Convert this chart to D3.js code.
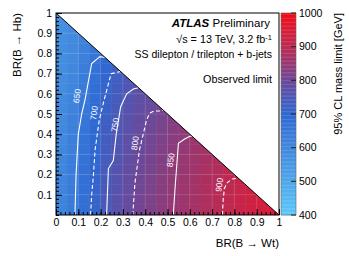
<!DOCTYPE html>
<html>
<head>
<meta charset="utf-8">
<script src="https://cdn.jsdelivr.net/npm/d3@7"></script>
<style>
  body { margin: 0; background: #fff; }
  svg { display: block; font-family: "Liberation Sans", Arial, Helvetica, sans-serif; }
</style>
</head>
<body>
<div id="chart"></div>
<script>
// bin width of the limit map, same on both axes
const binWidth = 0.05;

// 95% CL mass limit [GeV]; one row per BR(B->Hb) bin (bottom first),
// columns are BR(B->Wt) bins from the left, only inside the physical triangle
const massLimitRows = [
    [614, 643, 678, 713, 748, 769, 791, 808, 821, 835, 849, 860, 871, 883, 894, 906, 918, 929, 941, 953],
    [613, 642, 677, 712, 747, 768, 790, 807, 820, 834, 848, 859, 870, 882, 893, 905, 917, 928, 940],
    [612, 641, 676, 711, 746, 767, 789, 806, 819, 833, 847, 858, 869, 881, 892, 904, 916, 927],
    [610, 639, 674, 709, 744, 765, 787, 804, 817, 831, 845, 856, 867, 879, 890, 902, 914],
    [607, 636, 671, 706, 741, 762, 784, 801, 814, 828, 842, 853, 864, 876, 887, 899],
    [605, 634, 669, 704, 739, 760, 782, 799, 812, 826, 840, 851, 862, 874, 885],
    [602, 631, 666, 701, 736, 757, 779, 796, 809, 823, 837, 848, 859, 871],
    [599, 628, 663, 698, 733, 754, 776, 793, 806, 820, 834, 845, 856],
    [596, 625, 660, 695, 730, 751, 773, 790, 803, 817, 831, 842],
    [594, 621, 656, 691, 726, 747, 769, 786, 799, 813, 827],
    [592, 617, 652, 687, 722, 743, 765, 782, 795, 809],
    [590, 613, 648, 683, 718, 739, 761, 778, 791],
    [588, 610, 643, 678, 713, 734, 756, 773],
    [586, 607, 638, 673, 708, 729, 751],
    [584, 604, 633, 668, 703, 724],
    [582, 601, 627, 662, 697],
    [580, 598, 622, 657],
    [578, 595, 616],
    [576, 592],
    [574]
];

// observed-limit contours, [BR(B->Wt), BR(B->Hb)]
const contour650 = [[0.085, 0], [0.09, 0.2], [0.1, 0.4], [0.115, 0.5], [0.13, 0.57], [0.16, 0.75], [0.197, 0.784], [0.22, 0.78]];
const contour700 = [[0.155, 0], [0.16, 0.1], [0.168, 0.2], [0.175, 0.32], [0.185, 0.4], [0.194, 0.47], [0.212, 0.553], [0.247, 0.7], [0.29, 0.71]];
const contour750 = [[0.227, 0], [0.235, 0.23], [0.257, 0.27], [0.27, 0.4], [0.29, 0.536], [0.317, 0.6], [0.347, 0.624], [0.37, 0.63]];
const contour800 = [[0.344, 0], [0.354, 0.158], [0.374, 0.32], [0.406, 0.47], [0.42, 0.504], [0.44, 0.515], [0.474, 0.515], [0.48, 0.52]];
const contour850 = [[0.526, 0], [0.535, 0.15], [0.549, 0.355], [0.575, 0.375], [0.6, 0.39], [0.61, 0.39]];
const contour900 = [[0.746, 0], [0.75, 0.08], [0.755, 0.13], [0.765, 0.157], [0.788, 0.178], [0.818, 0.182]];

const contourLevels = [650, 700, 750, 800, 850, 900];
const contourLabelPos = [[0.094, 0.589], [0.17, 0.505], [0.265, 0.446], [0.354, 0.356], [0.514, 0.272], [0.732, 0.149]];

// axis ticks
const xTickValues = [0, 0.1, 0.2, 0.3, 0.4, 0.5, 0.6, 0.7, 0.8, 0.9, 1];
const xTickLabels = ["0", "0.1", "0.2", "0.3", "0.4", "0.5", "0.6", "0.7", "0.8", "0.9", "1"];
const yTickValues = [0.1, 0.2, 0.3, 0.4, 0.5, 0.6, 0.7, 0.8, 0.9, 1];
const yTickLabels = ["0.1", "0.2", "0.3", "0.4", "0.5", "0.6", "0.7", "0.8", "0.9", "1"];
const zTickValues = [400, 500, 600, 700, 800, 900, 1000];
const zTickLabels = ["400", "500", "600", "700", "800", "900", "1000"];

// colour palette of the z axis
const paletteStops = [400, 500, 600, 700, 750, 800, 850, 900, 950, 1000];
const paletteColors = ["#5cc9fa", "#4ea6ea", "#4288de", "#2e68d2", "#4c58b6", "#6c4898", "#963872", "#bc2a52", "#d81c38", "#f20a14"];

function drawLimitMap() {
    const plotW = 223, plotH = 202;

    const svg = d3.select("#chart")
        .append("svg")
        .attr("width", 349)
        .attr("height", 256);

    const g = svg.append("g").attr("transform", "translate(56,13)");

    const x = d3.scaleLinear().domain([0, 1]).range([0, plotW]);
    const y = d3.scaleLinear().domain([0, 1]).range([plotH, 0]);
    const color = d3.scaleLinear().domain(paletteStops).range(paletteColors).clamp(true);

    // only BR(Wt) + BR(Hb) <= 1 is physical
    svg.append("defs").append("clipPath").attr("id", "tri")
        .append("polygon")
        .attr("points", [[x(0), y(0)], [x(1), y(0)], [x(0), y(1)]].map(p => p.join(",")).join(" "));

    const cells = [];
    massLimitRows.forEach((row, j) => {
        row.forEach((v, i) => cells.push({ wt: i * binWidth, hb: j * binWidth, v: v }));
    });

    const map = g.append("g").attr("clip-path", "url(#tri)");

    map.selectAll("rect")
        .data(cells)
        .enter()
        .append("rect")
        .attr("x", d => x(d.wt))
        .attr("y", d => y(d.hb + binWidth))
        .attr("width", x(binWidth) - x(0))
        .attr("height", y(0) - y(binWidth))
        .attr("fill", d => color(d.v))
        .attr("stroke", d => color(d.v))
        .attr("stroke-width", 0.5);

    // faint grid
    const gridVals = xTickValues.slice(1, -1);
    map.selectAll(".gx").data(gridVals).enter().append("line")
        .attr("x1", d => x(d)).attr("x2", d => x(d))
        .attr("y1", y(0)).attr("y2", y(1))
        .attr("stroke", "#fff").attr("stroke-opacity", 0.13);
    map.selectAll(".gy").data(gridVals).enter().append("line")
        .attr("x1", x(0)).attr("x2", x(1))
        .attr("y1", d => y(d)).attr("y2", d => y(d))
        .attr("stroke", "#fff").attr("stroke-opacity", 0.13);

    // contour lines, every second level dashed
    const contours = [contour650, contour700, contour750, contour800, contour850, contour900]
        .map((pts, k) => ({ level: contourLevels[k], pts: pts, dashed: k % 2 === 1, label: contourLabelPos[k] }));

    const line = d3.line().x(d => x(d[0])).y(d => y(d[1]));

    map.selectAll(".contour")
        .data(contours)
        .enter()
        .append("path")
        .attr("d", d => line(d.pts))
        .attr("fill", "none")
        .attr("stroke", "#fff")
        .attr("stroke-width", 1.1)
        .attr("stroke-dasharray", d => d.dashed ? "4,2.5" : null);

    g.selectAll(".clabel")
        .data(contours)
        .enter()
        .append("text")
        .attr("transform", d => `translate(${x(d.label[0])},${y(d.label[1])}) rotate(-82)`)
        .attr("text-anchor", "middle")
        .attr("dy", "0.35em")
        .attr("fill", "#fff")
        .style("font-size", "8.5px")
        .text(d => d.level);

    // kinematic boundary
    g.append("line")
        .attr("x1", x(0)).attr("y1", y(1))
        .attr("x2", x(1)).attr("y2", y(0))
        .attr("stroke", "#000").attr("stroke-width", 1);

    // axes with inward ticks
    const minorTicks = d3.range(0, 51).map(k => k / 50);

    g.append("g").attr("transform", `translate(0,${plotH})`)
        .call(d3.axisBottom(x).tickValues(minorTicks).tickSizeInner(-3).tickSizeOuter(0).tickFormat(""))
        .call(a => a.select(".domain").remove());
    g.append("g").attr("transform", `translate(0,${plotH})`)
        .call(d3.axisBottom(x).tickValues(xTickValues).tickSizeInner(-6).tickSizeOuter(0).tickPadding(4)
            .tickFormat((d, i) => xTickLabels[i]))
        .call(a => a.select(".domain").remove())
        .selectAll("text").style("font-size", "10.5px").attr("fill", "#000");

    g.append("g")
        .call(d3.axisLeft(y).tickValues(minorTicks).tickSizeInner(-3).tickSizeOuter(0).tickFormat(""))
        .call(a => a.select(".domain").remove());
    g.append("g")
        .call(d3.axisLeft(y).tickValues(yTickValues).tickSizeInner(-6).tickSizeOuter(0).tickPadding(4)
            .tickFormat((d, i) => yTickLabels[i]))
        .call(a => a.select(".domain").remove())
        .selectAll("text").style("font-size", "10.5px").attr("fill", "#000");

    g.selectAll(".tick line").attr("stroke", "#000");

    // frame
    g.append("rect")
        .attr("width", plotW).attr("height", plotH)
        .attr("fill", "none").attr("stroke", "#000").attr("stroke-width", 1);

    // axis titles
    svg.append("text")
        .attr("x", 279).attr("y", 247)
        .attr("text-anchor", "end")
        .style("font-size", "11.5px")
        .text("BR(B \u2192 Wt)");

    svg.append("text")
        .attr("transform", "translate(21,13) rotate(-90)")
        .attr("text-anchor", "end")
        .style("font-size", "11.5px")
        .text("BR(B \u2192 Hb)");

    // z colour bar
    const bar = svg.append("g").attr("transform", "translate(281,13)");
    const barW = 15;
    const z = d3.scaleLinear().domain([400, 1000]).range([plotH, 0]);
    const barSteps = d3.range(400, 1000, 4);

    bar.selectAll("rect")
        .data(barSteps)
        .enter()
        .append("rect")
        .attr("x", 0)
        .attr("y", d => z(d + 4))
        .attr("width", barW)
        .attr("height", z(400) - z(404) + 0.3)
        .attr("fill", d => color(d + 2));

    bar.append("rect")
        .attr("width", barW).attr("height", plotH)
        .attr("fill", "none").attr("stroke", "#666").attr("stroke-width", 0.6);

    bar.selectAll(".ztick")
        .data(zTickValues)
        .enter()
        .append("line")
        .attr("x1", barW - 5).attr("x2", barW)
        .attr("y1", d => z(d)).attr("y2", d => z(d))
        .attr("stroke", "#222");

    bar.selectAll(".zlab")
        .data(zTickValues)
        .enter()
        .append("text")
        .attr("x", barW + 3)
        .attr("y", d => z(d))
        .attr("dy", "0.35em")
        .style("font-size", "10.5px")
        .text((d, i) => zTickLabels[i]);

    svg.append("text")
        .attr("transform", "translate(342,13) rotate(-90)")
        .attr("text-anchor", "end")
        .style("font-size", "11px")
        .text("95% CL mass limit [GeV]");

    // labels inside the plot
    const atlas = svg.append("text")
        .attr("x", 270).attr("y", 27)
        .attr("text-anchor", "end")
        .style("font-size", "11.5px");
    atlas.append("tspan").style("font-weight", "bold").style("font-style", "italic").text("ATLAS");
    atlas.append("tspan").text(" Preliminary");

    const energy = svg.append("text")
        .attr("x", 272).attr("y", 43)
        .attr("text-anchor", "end")
        .style("font-size", "10.8px");
    energy.append("tspan").text("\u221As = 13 TeV, 3.2 fb");
    energy.append("tspan").attr("dy", "-0.4em").style("font-size", "7.5px").text("-1");

    svg.append("text")
        .attr("x", 272).attr("y", 58)
        .attr("text-anchor", "end")
        .style("font-size", "10.5px")
        .text("SS dilepton / trilepton + b-jets");

    svg.append("text")
        .attr("x", 272).attr("y", 83)
        .attr("text-anchor", "end")
        .style("font-size", "10.8px")
        .text("Observed limit");
}

drawLimitMap();
</script>
</body>
</html>
